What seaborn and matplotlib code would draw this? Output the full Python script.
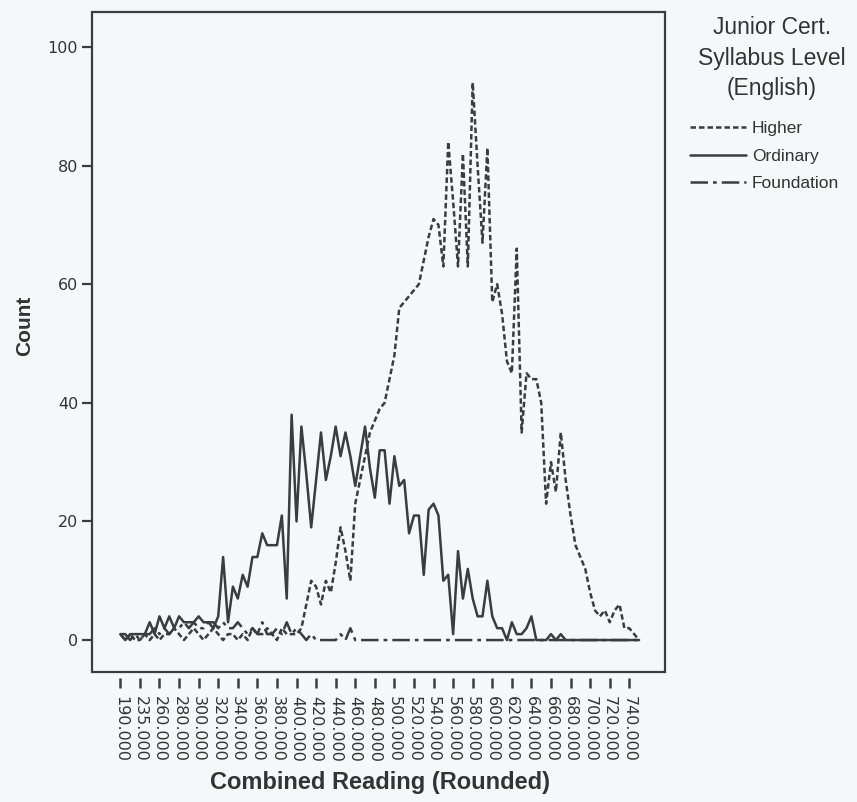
import matplotlib
matplotlib.use("Agg")
import matplotlib.pyplot as plt
import seaborn as sns
import pandas as pd

# ---------------- data ----------------
categories = [190, 215, 225, 230, 235, 240, 250, 255,
              260, 265, 270, 275, 280, 285, 290, 295, 300, 305, 310, 315,
              320, 325, 330, 335, 340, 345, 350, 355, 360, 365, 370, 375,
              380, 385, 390, 395, 400, 405, 410, 415, 420, 425, 430, 435,
              440, 445, 450, 455, 460, 465, 470, 475, 480, 485, 490, 495,
              500, 505, 510, 515, 520, 525, 530, 535, 540, 545, 550, 555,
              560, 565, 570, 575, 580, 585, 590, 595, 600, 605, 610, 615,
              620, 625, 630, 635, 640, 645, 650, 655, 660, 665, 670, 675,
              680, 685, 690, 695, 700, 705, 710, 715, 720, 725, 730, 735,
              740, 745, 750]

higher = [1, 0, 1, 0, 0, 1, 0, 1, 0, 1, 1, 2, 1, 0, 1, 2, 1, 0, 1, 2,
          1, 0, 1, 1, 0, 1, 0, 2, 1, 1, 2, 1, 0, 2, 1, 1, 1,
          2, 6, 10, 9, 6, 10, 8, 13, 19, 15, 10, 23, 27, 31, 35, 37, 39, 40,
          44, 48, 56, 57, 58, 59, 60, 64, 68, 71, 70, 63, 84, 74, 63, 82,
          63, 94, 80, 67, 83, 57, 60, 55, 47, 45, 66, 35, 45, 44, 44, 40,
          23, 30, 25, 35, 27, 21, 16, 14, 12, 8, 5, 4, 5, 3, 5, 6, 2, 2, 1, 0]

ordinary = [1, 0, 1, 1, 1, 1, 3, 1, 4, 2, 4, 2, 4, 3, 3, 3, 4, 3, 3, 2, 4,
            14, 3, 9, 7, 11, 9, 14, 14, 18, 16, 16, 16, 21, 7, 38, 20, 36,
            28, 19, 27, 35, 27, 31, 36, 31, 35, 31, 26, 31, 36, 29, 24, 32,
            32, 23, 31, 26, 27, 18, 21, 21, 11, 22, 23, 21, 10, 11, 1, 15,
            7, 12, 7, 4, 4, 10, 4, 2, 2, 0, 3, 1, 1, 2, 4, 0, 0, 0, 1, 0, 1,
            0, 0, 0, 0, 0, 0, 0, 0, 0, 0, 0, 0, 0, 0, 0, 0]

foundation = [1, 1, 0, 1, 0, 1, 1, 2, 1, 2, 1, 2, 2, 3, 2, 3, 2, 2, 3, 3,
              2, 3, 2, 2, 3, 2, 1, 2, 1, 3, 1, 1, 2, 1, 3, 1, 2, 1, 0, 1,
              0, 0, 0, 0, 0, 1, 0, 2,
              0, 0, 0, 0, 0, 0, 0, 0, 0, 0, 0, 0, 0, 0, 0, 0, 0, 0, 0, 0,
              0, 0, 0, 0, 0, 0, 0, 0, 0, 0, 0, 0, 0, 0, 0, 0, 0, 0, 0, 0,
              0, 0, 0, 0, 0, 0, 0, 0, 0, 0, 0, 0, 0, 0, 0, 0, 0, 0, 0]

levels = ["Higher", "Ordinary", "Foundation"]
tick_values = [190, 235, 260, 280, 300, 320, 340, 360, 380, 400, 420, 440,
               460, 480, 500, 520, 540, 560, 580, 600, 620, 640, 660, 680,
               700, 720, 740]

# ---------------- frame ----------------
pos = list(range(len(categories)))
rows = []
for lvl, vals in zip(levels, [higher, ordinary, foundation]):
    for p, v in zip(pos, vals):
        rows.append({"pos": p, "Count": v, "Level": lvl})
df = pd.DataFrame(rows)

sns.set_theme(style="white")
plt.rcParams["font.family"] = ["Liberation Sans", "DejaVu Sans"]

bg = "#f4f8fa"
ink = "#3a3d40"
fig = plt.figure(figsize=(8.57, 8.02), dpi=100, facecolor=bg)
ax = fig.add_axes([0.1073, 0.162, 0.6687, 0.823])
ax.set_facecolor(bg)

sns.lineplot(data=df, x="pos", y="Count", hue="Level", style="Level",
             hue_order=levels, style_order=levels,
             palette=[ink, ink, ink],
             dashes={"Higher": (2.2, 1.2), "Ordinary": "",
                     "Foundation": (7, 2, 1.5, 2)},
             linewidth=1.8, ax=ax, legend=True)

handles, labels = ax.get_legend_handles_labels()
ax.legend_.remove()

ax.set_xlim(-5.8, 111.3)
ax.set_ylim(-5.4, 105.9)

# frame via axes patch; spines hidden
for s in ax.spines.values():
    s.set_visible(False)
ax.patch.set_edgecolor(ink)
ax.patch.set_linewidth(1.6)
ax.spines["bottom"].set_position(("outward", 4))

ytk = [0, 20, 40, 60, 80, 100]
ax.set_yticks(ytk)
ax.set_yticklabels([str(v) for v in ytk], family="DejaVu Sans", fontsize=11.5,
                   color="#333333")
tick_pos = [categories.index(v) for v in tick_values]
ax.set_xticks(tick_pos)
ax.set_xticklabels([f"{v:.3f}" for v in tick_values], rotation=-90,
                   family="DejaVu Sans", fontsize=11.5, color="#333333")
ax.tick_params(axis="y", direction="out", length=7, width=1.6, color=ink,
               pad=3, left=True)
ax.tick_params(axis="x", direction="out", length=7, width=1.8, color=ink,
               pad=6, bottom=True)
ax.set_xlabel("")
ax.set_ylabel("")

fig.text(380 / 857, 1 - 783 / 802, "Combined Reading (Rounded)",
         ha="center", va="center", fontsize=17, fontweight="bold",
         color="#333333")
fig.text(25 / 857, 1 - 326 / 802, "Count", rotation=90,
         ha="center", va="center", fontsize=15, fontweight="bold",
         color="#333333")

# legend title as its own text, legend entries below
fig.text(772 / 857, 1 - 16 / 802, "Junior Cert.\nSyllabus Level\n(English)",
         ha="center", va="top", fontsize=16.5, linespacing=1.42,
         multialignment="center", color="#333333")
leg = fig.legend(handles, labels, loc="upper left",
                 bbox_to_anchor=(690 / 857, 1 - 121 / 802),
                 fontsize=12.5, frameon=False,
                 handlelength=3.2, handletextpad=0.35, labelspacing=0.72,
                 borderpad=0.0, borderaxespad=0.0)
for t in leg.get_texts():
    t.set_color("#333333")

fig.savefig("out.png", dpi=100, facecolor=bg)
